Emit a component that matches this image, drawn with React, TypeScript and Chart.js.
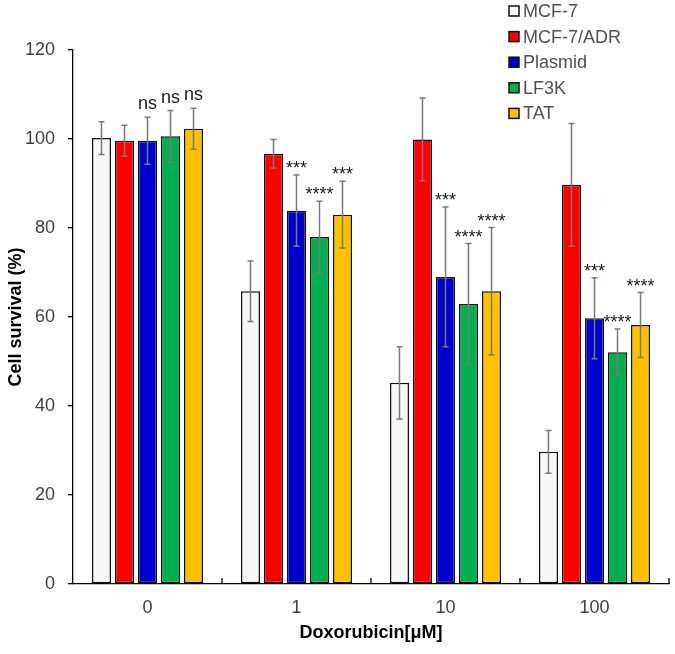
import React, { useEffect, useRef } from "react";
import { Chart, registerables } from "chart.js";
Chart.register(...registerables);

const categories = ["0", "1", "10", "100"];
const seriesNames = ["MCF-7", "MCF-7/ADR", "Plasmid", "LF3K", "TAT"];
const seriesColors = ["#f7f7f7", "#ff0000", "#0000cc", "#00b050", "#ffc000"];

const mcf7 = [100.2, 65.8, 45.2, 29.7];
const mcf7Err = [3.7, 6.8, 8.1, 4.8];
const adr = [99.6, 96.7, 99.9, 89.7];
const adrErr = [3.5, 3.2, 9.3, 13.8];
const plasmid = [99.6, 83.9, 69.0, 59.7];
const plasmidErr = [5.3, 8.0, 15.7, 9.1];
const lf3k = [100.6, 78.0, 62.9, 52.1];
const lf3kErr = [5.8, 8.0, 13.6, 5.2];
const tat = [102.3, 83.0, 65.8, 58.2];
const tatErr = [4.6, 7.5, 14.3, 7.3];

const mcf7Sig: (string | null)[] = [null, null, null, null];
const adrSig: (string | null)[] = [null, null, null, null];
const plasmidSig = ["ns", "***", "***", "***"];
const lf3kSig = ["ns", "****", "****", "****"];
const tatSig = ["ns", "***", "****", "****"];

const yMin = 0;
const yMax = 120;
const yStep = 20;

const FONT = "'Liberation Sans', Arial, sans-serif";

export default function App() {
  const ref = useRef<HTMLCanvasElement | null>(null);

  useEffect(() => {
    if (!ref.current) return;
    const values = [mcf7, adr, plasmid, lf3k, tat];
    const errors = [mcf7Err, adrErr, plasmidErr, lf3kErr, tatErr];
    const sigs = [mcf7Sig, adrSig, plasmidSig, lf3kSig, tatSig];

    const extras = {
      id: "extras",
      afterDatasetsDraw(chart: any) {
        const ctx = chart.ctx;
        const y = chart.scales.y;
        const x = chart.scales.x;
        const area = chart.chartArea;
        ctx.save();
        // error bars
        ctx.strokeStyle = "#7a7a7a";
        ctx.lineWidth = 1.5;
        values.forEach((vals, i) => {
          const meta = chart.getDatasetMeta(i);
          vals.forEach((v, j) => {
            const bx = meta.data[j].x;
            const top = y.getPixelForValue(v + errors[i][j]);
            const bot = y.getPixelForValue(v - errors[i][j]);
            ctx.beginPath();
            ctx.moveTo(bx, top);
            ctx.lineTo(bx, bot);
            ctx.moveTo(bx - 3, top);
            ctx.lineTo(bx + 3, top);
            ctx.moveTo(bx - 3, bot);
            ctx.lineTo(bx + 3, bot);
            ctx.stroke();
          });
        });
        // significance labels
        ctx.fillStyle = "#1a1a1a";
        ctx.font = `18px ${FONT}`;
        ctx.textAlign = "center";
        ctx.textBaseline = "alphabetic";
        sigs.forEach((s, i) => {
          const meta = chart.getDatasetMeta(i);
          s.forEach((label, j) => {
            if (!label) return;
            const bx = meta.data[j].x;
            const top = y.getPixelForValue(values[i][j] + errors[i][j]);
            const off = label === "ns" ? 8 : 1;
            ctx.fillText(label, bx, top - off);
          });
        });
        // x axis tick marks between categories (pointing up)
        ctx.strokeStyle = "#000";
        ctx.lineWidth = 1.3;
        for (let j = 0; j < categories.length; j++) {
          let px: number;
          if (j < categories.length - 1) {
            px = (x.getPixelForTick(j) + x.getPixelForTick(j + 1)) / 2;
          } else {
            px = area.right;
          }
          ctx.beginPath();
          ctx.moveTo(px, area.bottom);
          ctx.lineTo(px, area.bottom - 6);
          ctx.stroke();
        }
        // legend
        const lx = 509;
        const ly0 = 11;
        const lstep = 25.6;
        ctx.font = `18px ${FONT}`;
        ctx.textAlign = "left";
        ctx.textBaseline = "middle";
        seriesNames.forEach((name, i) => {
          const cy = ly0 + i * lstep;
          ctx.fillStyle = seriesColors[i];
          ctx.fillRect(lx, cy - 5, 10, 10);
          ctx.strokeStyle = "#111";
          ctx.lineWidth = 1.5;
          ctx.strokeRect(lx, cy - 5, 10, 10);
          ctx.fillStyle = "#505050";
          ctx.fillText(name, lx + 14, cy + 1);
        });
        ctx.restore();
      },
    };

    const chart = new Chart(ref.current, {
      type: "bar",
      data: {
        labels: categories,
        datasets: seriesNames.map((name, i) => ({
          label: name,
          data: values[i],
          backgroundColor: seriesColors[i],
          borderColor: "#111",
          borderWidth: 1.5,
          borderSkipped: false,
          categoryPercentage: 0.772,
          barPercentage: 0.826,
        })),
      },
      options: {
        animation: false,
        responsive: false,
        devicePixelRatio: 1,
        layout: { padding: { top: 50, right: 6, left: 0, bottom: 0 } },
        plugins: {
          legend: { display: false },
          tooltip: { enabled: false },
        },
        scales: {
          x: {
            grid: { display: false, drawTicks: false, tickLength: 0 },
            border: { display: true, color: "#000", width: 1.3 },
            ticks: {
              color: "#404040",
              font: { family: FONT, size: 18 },
              padding: 13,
            },
            title: {
              display: true,
              text: "Doxorubicin[μM]",
              color: "#000",
              font: { family: FONT, size: 18, weight: "bold" },
              padding: { top: 0, bottom: 10 },
            },
            afterFit(scale: any) {
              scale.height = 70;
            },
          },
          y: {
            min: yMin,
            max: yMax,
            grid: {
              display: true,
              drawOnChartArea: false,
              drawTicks: true,
              tickLength: 5,
              color: "#000",
              lineWidth: 1.3,
            },
            border: { display: true, color: "#000", width: 1.3 },
            ticks: {
              stepSize: yStep,
              color: "#404040",
              font: { family: FONT, size: 18 },
              padding: 13,
            },
            title: {
              display: true,
              text: "Cell survival (%)",
              color: "#000",
              font: { family: FONT, size: 18, weight: "bold" },
              padding: { top: 5, bottom: 0 },
            },
            afterFit(scale: any) {
              scale.width = 73;
            },
          },
        },
      },
      plugins: [extras],
    } as any);
    return () => chart.destroy();
  }, []);

  return (
    <div style={{ position: "fixed", left: 0, top: 0, width: 675, height: 654, background: "#fff" }}>
      <canvas ref={ref} width={675} height={654} style={{ display: "block" }} />
    </div>
  );
}
